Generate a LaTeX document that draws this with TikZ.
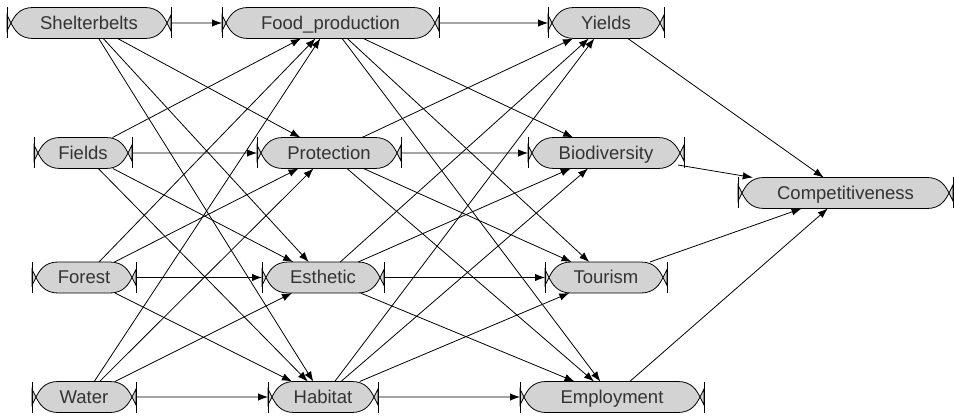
\documentclass[tikz,border=0pt]{standalone}
\usepackage{fontspec}
\setmainfont{Liberation Sans}
\usetikzlibrary{shapes.misc,arrows.meta}
\definecolor{capgray}{RGB}{211,211,211}
\definecolor{txtgray}{RGB}{51,51,51}
\tikzset{
  capfill/.style={fill=capgray,draw=black,line width=0.8pt,line join=miter},
  capbar/.style={draw=black,line width=0.8pt},
  capnode/.style={rounded rectangle,draw=none,inner sep=0pt,outer sep=0pt,
    minimum height=31pt,text=txtgray,font=\fontsize{18.5}{20}\selectfont,
    text height=12.5pt,text depth=0pt},
  arr/.style={draw=black,line width=0.8pt,-{Latex[length=10pt,width=7.5pt]}}
}
\newcommand\capnodedraw[5]{%
  \pgfmathsetmacro\cxl{#2}\pgfmathsetmacro\cxr{#3}\pgfmathsetmacro\cyc{#4}%
  \pgfmathsetmacro\cyt{#4-15.5}\pgfmathsetmacro\cyb{#4+15.5}%
  \pgfmathsetmacro\cwid{#3-#2}\pgfmathsetmacro\cxm{(#2+#3)/2}%
  \path[capfill] (\cxl,\cyc+8) -- (\cxl+4,\cyc)
     .. controls (\cxl+7,\cyc-6) and (\cxl+12,\cyt) .. (\cxl+26,\cyt)
     -- (\cxr-26,\cyt)
     .. controls (\cxr-12,\cyt) and (\cxr-7,\cyc-6) .. (\cxr-4,\cyc)
     -- (\cxr,\cyc+8) -- (\cxr,\cyc-8) -- (\cxr-4,\cyc)
     .. controls (\cxr-7,\cyc+6) and (\cxr-12,\cyb) .. (\cxr-26,\cyb)
     -- (\cxl+26,\cyb)
     .. controls (\cxl+12,\cyb) and (\cxl+7,\cyc+6) .. (\cxl+4,\cyc)
     -- (\cxl,\cyc-8) -- cycle;
  \draw[capbar] (\cxl,\cyt) -- (\cxl,\cyb);
  \draw[capbar] (\cxr,\cyt) -- (\cxr,\cyb);
  \node[capnode,minimum width=\cwid pt] (#1) at (\cxm,\cyc) {#5};%
}
\begin{document}
\begin{tikzpicture}[x=1pt,y=-1pt]
\useasboundingbox (0,0) rectangle (954,417);
% column 1
\capnodedraw{S}{7}{171}{23}{Shelterbelts}
\capnodedraw{Fi}{34}{132}{153}{Fields}
\capnodedraw{Fo}{32}{136}{277.5}{Forest}
\capnodedraw{W}{32}{136}{397}{Water}
% column 2
\capnodedraw{FP}{222}{439}{23}{Food\_production}
\capnodedraw{P}{257}{401}{153}{Protection}
\capnodedraw{E}{262}{384}{277.5}{Esthetic}
\capnodedraw{H}{268}{378}{397}{Habitat}
% column 3
\capnodedraw{Y}{548}{664}{23}{Yields}
\capnodedraw{B}{528}{684}{153}{Biodiversity}
\capnodedraw{T}{545}{667}{277.5}{Tourism}
\capnodedraw{Em}{520}{704}{397}{Employment}
% column 4
\capnodedraw{C}{738}{953}{193}{Competitiveness}
% connectors
\foreach \a in {S,Fi,Fo,W}{\foreach \b in {FP,P,E,H}{\draw[arr] (\a) -- (\b);}}
\foreach \a in {FP,P,E,H}{\foreach \b in {Y,B,T,Em}{\draw[arr] (\a) -- (\b);}}
\foreach \a in {Y,B,T,Em}{\draw[arr] (\a) -- (C);}
\end{tikzpicture}
\end{document}
